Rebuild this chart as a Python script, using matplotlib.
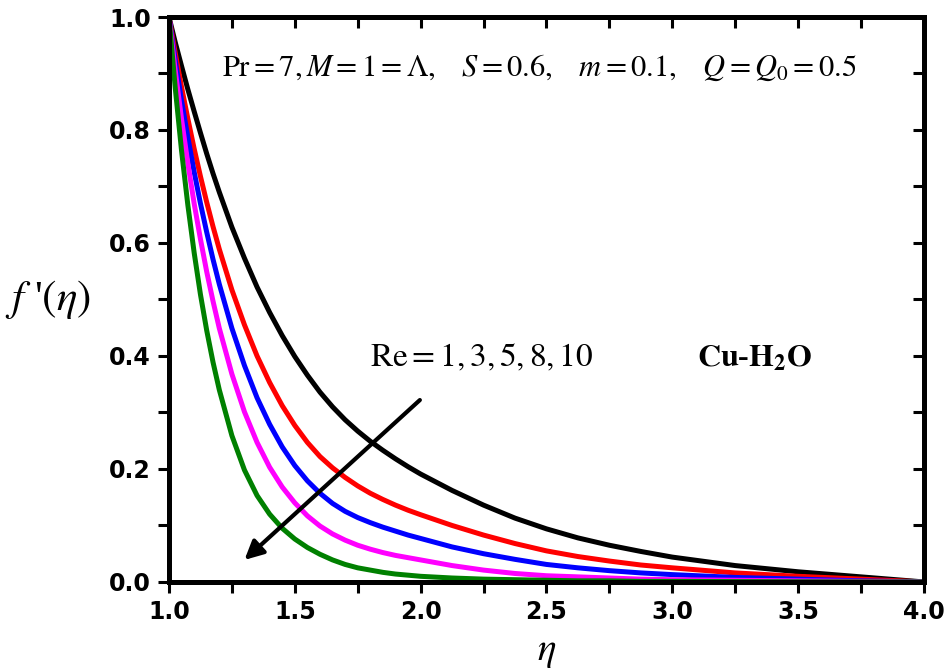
import matplotlib
matplotlib.use('Agg')
import matplotlib.pyplot as plt
from matplotlib.ticker import MultipleLocator

plt.rcParams['mathtext.fontset'] = 'stix'

# Значення eta (спільна сітка для всіх кривих)
eta = [1.0, 1.025, 1.05, 1.075, 1.1, 1.125, 1.15, 1.175, 1.2, 1.25, 1.3, 1.35,
       1.4, 1.45, 1.5, 1.55, 1.6, 1.65, 1.7, 1.75, 1.8, 1.85, 1.9, 1.95, 2.0,
       2.125, 2.25, 2.375, 2.5, 2.625, 2.75, 2.875, 3.0, 3.25, 3.5, 3.75, 4.0]

# f'(eta) для Re = 1, 3, 5, 8, 10
f_re1 = [1.0, 0.955, 0.913, 0.872, 0.833, 0.795, 0.758, 0.723, 0.69, 0.628, 0.573,
         0.522, 0.477, 0.436, 0.399, 0.366, 0.336, 0.31, 0.287, 0.267, 0.249,
         0.233, 0.218, 0.204, 0.191, 0.162, 0.136, 0.113, 0.094, 0.078, 0.065,
         0.054, 0.044, 0.029, 0.018, 0.009, 0.0]
f_re3 = [1.0, 0.936, 0.876, 0.82, 0.767, 0.718, 0.672, 0.629, 0.589, 0.517, 0.455,
         0.40, 0.353, 0.312, 0.277, 0.247, 0.222, 0.202, 0.185, 0.170, 0.157,
         0.146, 0.136, 0.127, 0.119, 0.10, 0.083, 0.068, 0.055, 0.045, 0.037,
         0.030, 0.025, 0.016, 0.01, 0.005, 0.0]
f_re5 = [1.0, 0.923, 0.852, 0.787, 0.726, 0.67, 0.619, 0.571, 0.527, 0.449, 0.383,
         0.326, 0.279, 0.239, 0.206, 0.179, 0.157, 0.139, 0.125, 0.114, 0.105,
         0.097, 0.09, 0.083, 0.077, 0.062, 0.05, 0.04, 0.031, 0.025, 0.02,
         0.016, 0.013, 0.008, 0.005, 0.002, 0.0]
f_re8 = [1.0, 0.905, 0.819, 0.741, 0.67, 0.607, 0.549, 0.497, 0.449, 0.368, 0.301,
         0.247, 0.203, 0.168, 0.14, 0.117, 0.099, 0.085, 0.074, 0.065, 0.058,
         0.052, 0.047, 0.043, 0.039, 0.029, 0.021, 0.015, 0.011, 0.009, 0.007,
         0.005, 0.004, 0.003, 0.002, 0.001, 0.0]
f_re10 = [1.0, 0.874, 0.763, 0.667, 0.583, 0.509, 0.445, 0.389, 0.34, 0.259, 0.198,
          0.153, 0.12, 0.095, 0.076, 0.061, 0.049, 0.039, 0.031, 0.025, 0.021,
          0.017, 0.014, 0.012, 0.01, 0.007, 0.005, 0.004, 0.003, 0.002, 0.002,
          0.001, 0.001, 0.0006, 0.0003, 0.0001, 0.0]

series = [f_re1, f_re3, f_re5, f_re8, f_re10]
colors = ['black', 'red', 'blue', 'magenta', 'green']

fig = plt.figure(figsize=(9.52, 6.72), dpi=100)
ax = fig.add_axes([0.1775, 0.134, 0.793, 0.8407])

for vals, c in zip(series, colors):
    ax.plot(eta, vals, color=c, lw=3.6, solid_joinstyle='round')

ax.set_xlim(1.0, 4.0)
ax.set_ylim(0.0, 1.0)

# Осі та поділки
for sp in ax.spines.values():
    sp.set_linewidth(3.6)
ax.xaxis.set_major_locator(MultipleLocator(0.5))
ax.xaxis.set_minor_locator(MultipleLocator(0.25))
ax.yaxis.set_major_locator(MultipleLocator(0.2))
ax.yaxis.set_minor_locator(MultipleLocator(0.1))
ax.tick_params(which='both', direction='out', length=8, width=2.2,
               top=False, right=False)
ax.tick_params(axis='both', which='major', labelsize=17, pad=5)
for lab in ax.get_xticklabels() + ax.get_yticklabels():
    lab.set_fontweight('bold')

# Внутрішні поділки зверху і справа
ax_top = ax.secondary_xaxis('top')
ax_top.xaxis.set_major_locator(MultipleLocator(0.25))
ax_top.tick_params(direction='in', length=8, width=2.2, labeltop=False)
ax_top.spines['top'].set_visible(False)
ax_right = ax.secondary_yaxis('right')
ax_right.yaxis.set_major_locator(MultipleLocator(0.1))
ax_right.tick_params(direction='in', length=8, width=2.2, labelright=False)
ax_right.spines['right'].set_visible(False)

ax.set_xlabel(r'$\eta$', fontsize=28, labelpad=6)
ax.set_ylabel(r"$f$ '$(\eta)$", fontsize=31, rotation=0, ha='center',
              va='center', fontfamily='Liberation Serif')
ax.yaxis.set_label_coords(-0.16, 0.5)

# Підписи
ax.text(1.21, 0.91,
        r'$\mathrm{Pr}=7,M=1=\Lambda,\ \ \ S=0.6,\ \ \ m=0.1,\ \ \ Q=Q_0=0.5$',
        fontsize=22, ha='left', va='center')
ax.text(1.80, 0.398, r'$\mathrm{Re}=1,3,5,8,10$', fontsize=24,
        ha='left', va='center')
ax.text(3.098, 0.395, r'$\mathbf{Cu}$-$\mathbf{H_2O}$', fontsize=23,
        ha='left', va='center', fontfamily='Liberation Serif', fontweight='bold')

ax.annotate('', xy=(1.30, 0.039), xytext=(1.997, 0.322),
            arrowprops=dict(arrowstyle='-|>', lw=3, color='black',
                            mutation_scale=28, shrinkA=0, shrinkB=0))

plt.savefig('out.png', dpi=100)
